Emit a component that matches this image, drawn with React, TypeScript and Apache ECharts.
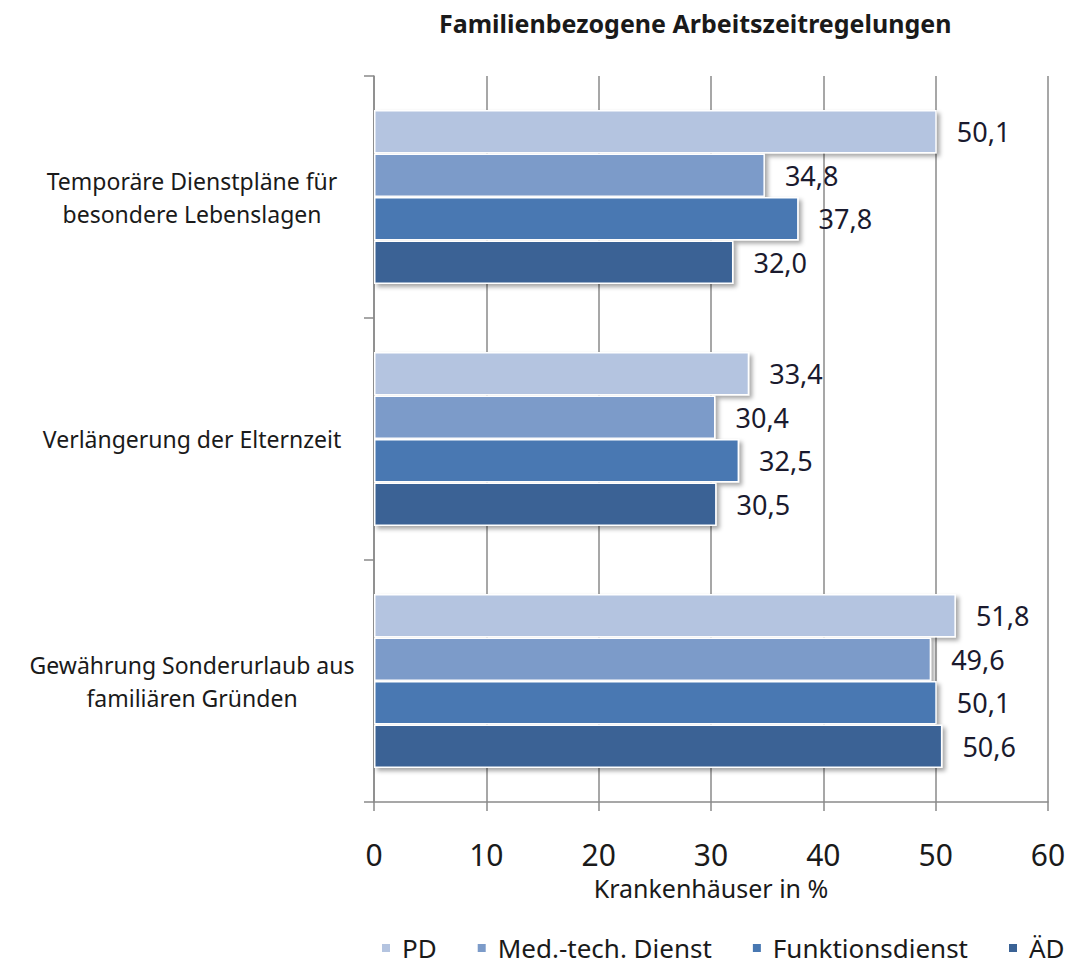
import React, { useEffect, useRef } from "react";
import * as echarts from "echarts";

const categories = [
  "Temporäre Dienstpläne für\nbesondere Lebenslagen",
  "Verlängerung der Elternzeit",
  "Gewährung Sonderurlaub aus\nfamiliären Gründen",
];
const seriesNames = ["PD", "Med.-tech. Dienst", "Funktionsdienst", "ÄD"];
const pdValues = [50.1, 33.4, 51.8];
const medValues = [34.8, 30.4, 49.6];
const funkValues = [37.8, 32.5, 50.1];
const aedValues = [32.0, 30.5, 50.6];
const xTicks = [0, 10, 20, 30, 40, 50, 60];
const colors = ["#B4C4E0", "#7C9BC9", "#4878B2", "#3A6295"];

const FONT = "'Noto Sans', 'Open Sans', sans-serif";

export default function App() {
  const ref = useRef<HTMLDivElement>(null);
  useEffect(() => {
    if (!ref.current) return;
    const chart = echarts.init(ref.current, undefined, { renderer: "svg" });
    const values = [pdValues, medValues, funkValues, aedValues];
    chart.setOption({
      animation: false,
      backgroundColor: "#ffffff",
      textStyle: { fontFamily: FONT },
      title: {
        text: "Familienbezogene Arbeitszeitregelungen",
        left: 434,
        top: 5,
        textStyle: { fontFamily: FONT, fontSize: 25, fontWeight: "bold", color: "#1a1a1a" },
      },
      legend: {
        bottom: 6,
        left: 380,
        padding: 0,
        itemWidth: 10,
        itemHeight: 10,
        itemGap: 39,
        icon: "rect",
        textStyle: { fontFamily: FONT, fontSize: 26, color: "#1a1a1a", padding: [0, 0, 0, 6] },
        data: seriesNames,
      },
      grid: { left: 374, right: 27, top: 76, bottom: 165, containLabel: false },
      xAxis: {
        type: "value",
        min: xTicks[0],
        max: xTicks[xTicks.length - 1],
        interval: 10,
        name: "Krankenhäuser in %",
        nameLocation: "middle",
        nameGap: 73,
        nameTextStyle: { fontFamily: FONT, fontSize: 25, color: "#1a1a1a" },
        axisLine: { show: true, lineStyle: { color: "#8a8a8a", width: 1.5 } },
        axisTick: { show: true, length: 9, lineStyle: { color: "#8a8a8a", width: 1.5 } },
        axisLabel: { margin: 37, fontFamily: FONT, fontSize: 30, color: "#1a1a1a" },
        splitLine: { show: true, lineStyle: { color: "#8a8a8a", width: 1.5 } },
      },
      yAxis: {
        type: "category",
        inverse: true,
        data: categories,
        axisLine: { show: true, lineStyle: { color: "#8a8a8a", width: 1.5 } },
        axisTick: { show: true, length: 10, lineStyle: { color: "#8a8a8a", width: 1.5 } },
        axisLabel: {
          margin: 182,
          align: "center",
          fontFamily: FONT,
          fontSize: 23,
          lineHeight: 33,
          padding: [4, 0, 0, 0],
          color: "#1a1a1a",
        },
      },
      series: seriesNames.map((name, i) => ({
        name,
        type: "bar",
        data: values[i],
        barGap: "0%",
        barCategoryGap: "28%",
        itemStyle: {
          color: colors[i],
          borderColor: "#ffffff",
          borderWidth: 1.5,
          shadowColor: "rgba(0,0,0,0.35)",
          shadowBlur: 4,
          shadowOffsetX: 3,
          shadowOffsetY: 3,
        },
        label: {
          show: true,
          position: "right",
          distance: 20,
          fontFamily: FONT,
          fontSize: 27,
          color: "#1a1a2e",
          formatter: (p: any) => p.value.toFixed(1).replace(".", ","),
        },
      })),
    });
    return () => chart.dispose();
  }, []);
  return <div ref={ref} style={{ width: 1075, height: 967, position: "absolute", left: 0, top: 0 }} />;
}
